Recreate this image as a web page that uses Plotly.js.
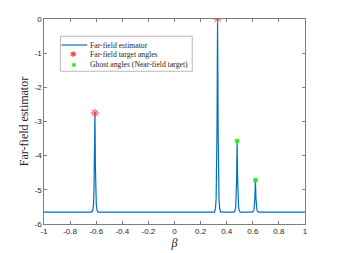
<!DOCTYPE html>
<html>
<head>
<meta charset="utf-8">
<script src="https://cdn.plot.ly/plotly-3.0.1.min.js"></script>
<style>html,body{margin:0;padding:0;background:#fff;}#chart{width:337px;height:253px;}</style>
</head>
<body>
<div id="chart"></div>
<script>
// Far-field estimator curve
const betaValues = [
  -1, -0.634,
  -0.626, -0.621, -0.617, -0.614, -0.612, -0.61, -0.608, -0.606, -0.603, -0.599, -0.594, -0.586,
  0.306,
  0.314, 0.319, 0.323, 0.326, 0.328, 0.33, 0.332, 0.334, 0.337, 0.341, 0.346, 0.354,
  0.456,
  0.464, 0.469, 0.473, 0.476, 0.478, 0.48, 0.482, 0.484, 0.487, 0.491, 0.496, 0.504,
  0.596,
  0.604, 0.609, 0.613, 0.616, 0.618, 0.62, 0.622, 0.624, 0.627, 0.631, 0.636, 0.644,
  1
];
const estimatorValues = [
  -5.65, -5.65,
  -5.59, -5.45, -5.07, -4.35, -3.48, -2.75, -3.48, -4.35, -5.07, -5.45, -5.59, -5.65,
  -5.65,
  -5.54, -5.25, -4.52, -3.11, -1.41, 0, -1.41, -3.11, -4.52, -5.25, -5.54, -5.65,
  -5.65,
  -5.61, -5.5, -5.23, -4.71, -4.09, -3.57, -4.09, -4.71, -5.23, -5.5, -5.61, -5.65,
  -5.65,
  -5.63, -5.58, -5.46, -5.23, -4.95, -4.72, -4.95, -5.23, -5.46, -5.58, -5.63, -5.65,
  -5.65
];
const targetBeta = [-0.61, 0.33];
const targetValues = [-2.75, 0];
const ghostBeta = [0.48, 0.62];
const ghostValues = [-3.57, -4.72];
const xTickVals = [-1, -0.8, -0.6, -0.4, -0.2, 0, 0.2, 0.4, 0.6, 0.8, 1];
const xTickText = ['-1', '-0.8', '-0.6', '-0.4', '-0.2', '0', '0.2', '0.4', '0.6', '0.8', '1'];
const yTickVals = [-6, -5, -4, -3, -2, -1, 0];
const yTickText = ['-6', '-5', '-4', '-3', '-2', '-1', '0'];
const legendLabels = ['Far-field estimator', 'Far-field target angles', 'Ghost angles (Near-field target)'];

const blue = '#0072BD', red = '#ff3b3b', green = '#22ee22';
const serif = 'Liberation Serif, Times New Roman, serif';

const traces = [
  {x: betaValues, y: estimatorValues, type: 'scatter', mode: 'lines',
   name: legendLabels[0], line: {color: blue, width: 1.2}},
  {x: targetBeta, y: targetValues, type: 'scatter', mode: 'markers',
   name: legendLabels[1],
   marker: {symbol: 'asterisk-open', size: 7, color: red, line: {color: red, width: 1}}},
  {x: ghostBeta, y: ghostValues, type: 'scatter', mode: 'markers',
   name: legendLabels[2],
   marker: {symbol: 'square', size: 3.5, color: green, line: {color: green, width: 0.8}}}
];

const axisCommon = {
  showline: true, linecolor: '#262626', linewidth: 0.6, mirror: 'ticks',
  ticks: 'inside', ticklen: 3, tickwidth: 0.6, tickcolor: '#262626',
  showgrid: false, zeroline: false,
  tickfont: {family: 'Liberation Sans, Arial, sans-serif', size: 8, color: '#262626'}
};

// manual legend (compact, like the original)
const legX0 = 0.063, legX1 = 0.568, legY0 = 0.745, legY1 = 0.916;
const rowY = [0.873, 0.825, 0.776];
const textX = 0.170, symX = 0.1147;

const shapes = [
  {type: 'rect', xref: 'paper', yref: 'paper', x0: legX0, x1: legX1, y0: legY0, y1: legY1,
   line: {color: '#a8a8a8', width: 0.8}, fillcolor: '#ffffff', layer: 'above'},
  {type: 'line', xref: 'paper', yref: 'paper', x0: 0.067, x1: 0.166, y0: rowY[0], y1: rowY[0],
   line: {color: blue, width: 1.2}, layer: 'above'},
  {type: 'rect', xref: 'paper', yref: 'paper', x0: symX - 0.0055, x1: symX + 0.0055,
   y0: rowY[2] - 0.007, y1: rowY[2] + 0.007, line: {color: green, width: 0.6}, fillcolor: green, layer: 'above'}
];

const annotations = legendLabels.map((t, i) => ({
  xref: 'paper', yref: 'paper', x: textX, y: rowY[i], xanchor: 'left', yanchor: 'middle',
  text: t, showarrow: false, font: {family: serif, size: 7.7, color: '#262626'}
}));
annotations.push({
  xref: 'paper', yref: 'paper', x: symX, y: rowY[1], xanchor: 'center', yanchor: 'middle',
  text: '✱', showarrow: false, font: {family: 'DejaVu Sans, sans-serif', size: 8, color: red}
});

const layout = {
  width: 337, height: 253,
  margin: {l: 43.5, r: 32, t: 18.7, b: 29},
  paper_bgcolor: '#ffffff', plot_bgcolor: '#ffffff',
  showlegend: false,
  shapes: shapes, annotations: annotations,
  xaxis: Object.assign({}, axisCommon, {
    range: [-1, 1], tickmode: 'array', tickvals: xTickVals, ticktext: xTickText,
    title: {text: '<i>β</i>', standoff: 2,
            font: {family: serif, size: 12, color: '#262626'}}
  }),
  yaxis: Object.assign({}, axisCommon, {
    range: [-6, 0], tickmode: 'array', tickvals: yTickVals, ticktext: yTickText,
    title: {text: 'Far-field estimator', standoff: 3,
            font: {family: serif, size: 12, color: '#262626'}}
  })
};

Plotly.newPlot('chart', traces, layout, {staticPlot: true, displayModeBar: false});
</script>
</body>
</html>
